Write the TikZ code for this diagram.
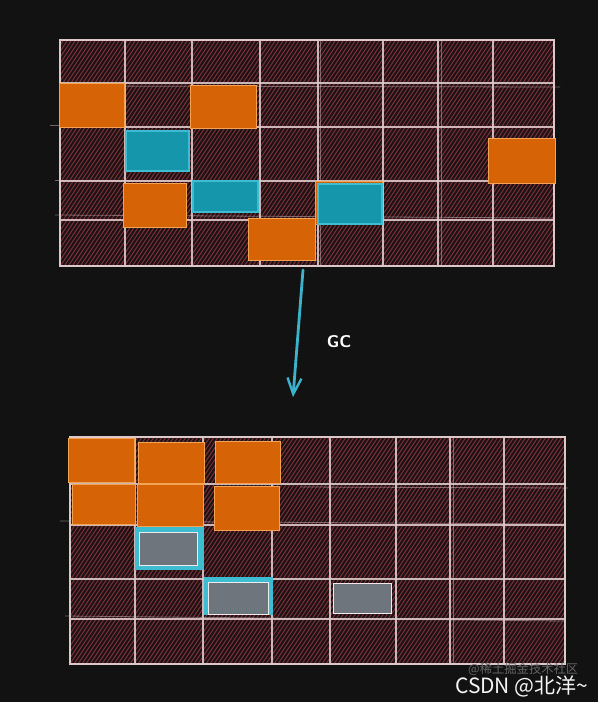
\documentclass[tikz,border=0pt]{standalone}
\usepackage{fontspec}
\newfontfamily\cjk{Noto Sans CJK SC}
\usetikzlibrary{arrows.meta,fit}
\definecolor{bg}{HTML}{121212}
\definecolor{gridbase}{HTML}{1C1214}
\definecolor{hatchc}{HTML}{7A3038}
\definecolor{glinec}{HTML}{DCC8C8}
\definecolor{orangef}{HTML}{D66306}
\definecolor{oranged}{HTML}{F2A354}
\definecolor{cyanf}{HTML}{1696AA}
\definecolor{cyand}{HTML}{3EBDD2}
\definecolor{grayf}{HTML}{6E757C}
\definecolor{arrowc}{HTML}{3AB3CB}
\tikzset{
  gridbox/.style={inner sep=0pt, draw=glinec, line width=1.4pt, fill=gridbase,
    path picture={\foreach \i in {-800,-796,...,560}{\draw[hatchc, line width=1pt] (\i,400) -- (\i+536,-400);}}},
  gline/.style={glinec, line width=1.3pt, opacity=0.9},
  gline2/.style={glinec, line width=0.8pt, opacity=0.45},
  obox/.style={inner sep=0pt, fill=orangef, draw=oranged, line width=1pt},
  cbox/.style={inner sep=0pt, fill=cyanf, draw=cyand, line width=2.5pt},
  gbox/.style={inner sep=0pt, fill=grayf, draw=white!85!gray, line width=1pt},
  gcbox/.style={inner sep=0pt, draw=cyand, fill=cyand, line width=1.5pt},
  arrowline/.style={arrowc, line width=2.8pt, line cap=round, -{Straight Barb[length=16pt,width=14pt,line width=2.4pt]}},
}
\begin{document}
\begin{tikzpicture}[x=1pt,y=-1pt]
\fill[bg] (0,0) rectangle (598,702);
\useasboundingbox (0,0) rectangle (598,702);

% ---------- top grid ----------
\node[gridbox, fit={(60,40) (554,266)}] (topgrid) {};
\foreach \x in {125,192,260,318,383,438,493}{\draw[gline] (\x,40) -- (\x,266);}
\foreach \y in {83,127,181,220}{\draw[gline] (60,\y) -- (554,\y);}
\draw[gline2] (320,40) -- (320,266);
\draw[gline2] (441,40) -- (441,266);
\draw[gline2] (60,86) -- (560,87);
\draw[gline2] (50,125) -- (120,125);
\draw[gline2] (55,215) -- (554,218);
\draw[gline2] (55,180) -- (200,180);

\node[obox, fit={(59,83) (124,127)}] (o1) {};
\node[obox, fit={(190,85) (256,128)}] (o2) {};
\node[cbox, fit={(126,131) (189,171)}] (c1) {};
\node[obox, fit={(123,183) (186,227)}] (o3) {};
\node[cbox, fit={(193,181) (258,212)}] (c2) {};
\node[obox, fit={(248,218) (315,260)}] (o4) {};
\node[obox, fit={(315,181) (382,224)}] (o5) {};
\node[cbox, fit={(318,184) (382,224)}] (c3) {};
\node[obox, fit={(488,138) (555,183)}] (o6) {};

% ---------- arrow ----------
\coordinate (a1) at (303,270);
\coordinate (a2) at (293,397);
\draw[arrowline] (a1) -- (a2);
\node[text=white, font=\sffamily\bfseries\fontsize{17}{17}\selectfont] (gc) at (339,342) {GC};

% ---------- bottom grid ----------
\node[gridbox, fit={(70,437) (565,664)}] (botgrid) {};
\foreach \x in {135,203,272,330,396,450,504}{\draw[gline] (\x,437) -- (\x,664);}
\foreach \y in {484,525,579,619}{\draw[gline] (70,\y) -- (565,\y);}
\draw[gline2] (453,437) -- (453,664);
\draw[gline2] (60,521) -- (565,524);
\draw[gline2] (65,616) -- (565,621);
\draw[gline2] (300,487) -- (568,488);

\node[obox, fit={(68,438) (134,482)}] (b1) {};
\node[obox, fit={(138,442) (204,483)}] (b2) {};
\node[obox, fit={(215,441) (280,483)}] (b3) {};
\node[obox, fit={(72,484) (135,524)}] (b4) {};
\node[obox, fit={(137,484) (203,526)}] (b5) {};
\node[obox, fit={(214,486) (279,530)}] (b6) {};
\node[gcbox, fit={(136,528) (203,569)}] (k1) {};
\node[gbox, fit={(139,532) (197,565)}] (g1) {};
\node[gcbox, fit={(205,578) (272,614)}] (k2) {};
\node[gbox, fit={(208,582) (268,614)}] (g2) {};
\node[gbox, fit={(333,583) (391,613)}] (g3) {};

% ---------- watermark ----------
\node[anchor=west, text=white!35!bg, font=\cjk\fontsize{12.3}{12.3}\selectfont, inner sep=0pt] (wm1) at (468,669) {@稀土掘金技术社区};
\node[anchor=west, text=white!92!gray, font=\cjk\fontsize{21}{21}\selectfont, inner sep=0pt] (wm2) at (455,686) {CSDN @北洋\textasciitilde};
\end{tikzpicture}
\end{document}
